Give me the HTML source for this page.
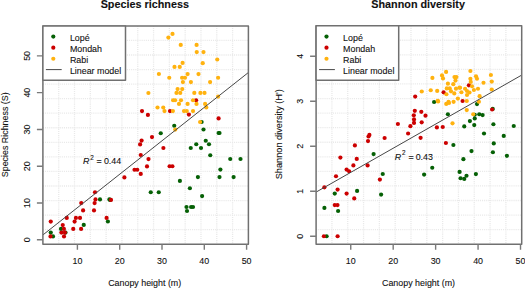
<!DOCTYPE html>
<html><head><meta charset="utf-8"><style>
html,body{margin:0;padding:0;background:#fff;}
svg{display:block;}
text{font-family:"Liberation Sans",sans-serif;fill:#111;stroke:#111;stroke-width:0.1px;}
</style></head><body>
<svg width="525" height="288" viewBox="0 0 525 288">
<rect width="525" height="288" fill="#fff"/>

<path d="M58.71 25.9V244.2M74.52 25.9V244.2M90.32 25.9V244.2M106.13 25.9V244.2M121.94 25.9V244.2M137.75 25.9V244.2M153.55 25.9V244.2M169.36 25.9V244.2M185.17 25.9V244.2M200.98 25.9V244.2M216.78 25.9V244.2M232.59 25.9V244.2M42.9 40.45H248.4M42.9 55.01H248.4M42.9 69.56H248.4M42.9 84.11H248.4M42.9 98.67H248.4M42.9 113.22H248.4M42.9 127.77H248.4M42.9 142.33H248.4M42.9 156.88H248.4M42.9 171.43H248.4M42.9 185.99H248.4M42.9 200.54H248.4M42.9 215.09H248.4M42.9 229.65H248.4" stroke="#e9e9e9" stroke-width="1.3" stroke-dasharray="1.1 1" fill="none"/>
<circle cx="201.6" cy="122" r="2.1" fill="#056005"/><circle cx="174.25" cy="125.75" r="2.1" fill="#056005"/><circle cx="160.75" cy="133.25" r="2.1" fill="#056005"/><circle cx="190.75" cy="148" r="2.1" fill="#056005"/><circle cx="150.75" cy="192.25" r="2.1" fill="#056005"/><circle cx="158.75" cy="192.25" r="2.1" fill="#056005"/><circle cx="179.9" cy="180.9" r="2.1" fill="#056005"/><circle cx="189.9" cy="188.25" r="2.1" fill="#056005"/><circle cx="186.5" cy="207" r="2.1" fill="#056005"/><circle cx="187" cy="211" r="2.1" fill="#056005"/><circle cx="191.1" cy="207" r="2.1" fill="#056005"/><circle cx="193" cy="207" r="2.1" fill="#056005"/><circle cx="203.5" cy="129.5" r="2.1" fill="#056005"/><circle cx="219.5" cy="133" r="2.1" fill="#056005"/><circle cx="218.6" cy="133" r="2.1" fill="#056005"/><circle cx="205.75" cy="140.75" r="2.1" fill="#056005"/><circle cx="196.25" cy="144.25" r="2.1" fill="#056005"/><circle cx="209" cy="144.25" r="2.1" fill="#056005"/><circle cx="201" cy="148" r="2.1" fill="#056005"/><circle cx="210.25" cy="155.25" r="2.1" fill="#056005"/><circle cx="220.4" cy="169.6" r="2.1" fill="#056005"/><circle cx="197.9" cy="177.1" r="2.1" fill="#056005"/><circle cx="219.5" cy="177.1" r="2.1" fill="#056005"/><circle cx="202.1" cy="196.1" r="2.1" fill="#056005"/><circle cx="230.25" cy="159" r="2.1" fill="#056005"/><circle cx="240.5" cy="159" r="2.1" fill="#056005"/><circle cx="233.6" cy="177.1" r="2.1" fill="#056005"/><circle cx="110.1" cy="199.9" r="2.1" fill="#056005"/><circle cx="107.9" cy="221.5" r="2.1" fill="#056005"/><circle cx="100" cy="199.4" r="2.1" fill="#056005"/><circle cx="109.4" cy="199.4" r="2.1" fill="#056005"/><circle cx="83.75" cy="224.9" r="2.1" fill="#056005"/><circle cx="61" cy="228.9" r="2.1" fill="#056005"/><circle cx="50.75" cy="232.6" r="2.1" fill="#056005"/><circle cx="53" cy="236.4" r="2.1" fill="#056005"/><circle cx="65.5" cy="232.6" r="2.1" fill="#056005"/><circle cx="142" cy="111.1" r="2.1" fill="#cc0000"/><circle cx="147.9" cy="114.9" r="2.1" fill="#cc0000"/><circle cx="170" cy="111.1" r="2.1" fill="#cc0000"/><circle cx="196.1" cy="100.25" r="2.1" fill="#cc0000"/><circle cx="188.9" cy="114.6" r="2.1" fill="#cc0000"/><circle cx="218.6" cy="118.4" r="2.1" fill="#cc0000"/><circle cx="152" cy="137.1" r="2.1" fill="#cc0000"/><circle cx="141.6" cy="140.6" r="2.1" fill="#cc0000"/><circle cx="140.1" cy="144.4" r="2.1" fill="#cc0000"/><circle cx="140.75" cy="155" r="2.1" fill="#cc0000"/><circle cx="148.5" cy="159.1" r="2.1" fill="#cc0000"/><circle cx="147" cy="166.4" r="2.1" fill="#cc0000"/><circle cx="134.5" cy="169.75" r="2.1" fill="#cc0000"/><circle cx="137.25" cy="169.75" r="2.1" fill="#cc0000"/><circle cx="140.75" cy="173.9" r="2.1" fill="#cc0000"/><circle cx="163.4" cy="148" r="2.1" fill="#cc0000"/><circle cx="169.6" cy="166.25" r="2.1" fill="#cc0000"/><circle cx="172.4" cy="166.25" r="2.1" fill="#cc0000"/><circle cx="124.4" cy="177.4" r="2.1" fill="#cc0000"/><circle cx="111" cy="199.9" r="2.1" fill="#cc0000"/><circle cx="106.6" cy="217.9" r="2.1" fill="#cc0000"/><circle cx="95" cy="192.25" r="2.1" fill="#cc0000"/><circle cx="95.5" cy="199.4" r="2.1" fill="#cc0000"/><circle cx="81.25" cy="203.1" r="2.1" fill="#cc0000"/><circle cx="94.6" cy="203.1" r="2.1" fill="#cc0000"/><circle cx="83.1" cy="210.4" r="2.1" fill="#cc0000"/><circle cx="94" cy="210.4" r="2.1" fill="#cc0000"/><circle cx="75.9" cy="217.9" r="2.1" fill="#cc0000"/><circle cx="80" cy="217.9" r="2.1" fill="#cc0000"/><circle cx="74.6" cy="221.6" r="2.1" fill="#cc0000"/><circle cx="81.1" cy="228.9" r="2.1" fill="#cc0000"/><circle cx="73.25" cy="228.9" r="2.1" fill="#cc0000"/><circle cx="50.75" cy="221.6" r="2.1" fill="#cc0000"/><circle cx="66.75" cy="217.9" r="2.1" fill="#cc0000"/><circle cx="62.75" cy="225.1" r="2.1" fill="#cc0000"/><circle cx="63.9" cy="228.9" r="2.1" fill="#cc0000"/><circle cx="61.4" cy="232.6" r="2.1" fill="#cc0000"/><circle cx="64.9" cy="232.6" r="2.1" fill="#cc0000"/><circle cx="50.5" cy="236.4" r="2.1" fill="#cc0000"/><circle cx="64" cy="236.4" r="2.1" fill="#cc0000"/><circle cx="172.5" cy="33.9" r="2.1" fill="#ffb20f"/><circle cx="168.4" cy="37.6" r="2.1" fill="#ffb20f"/><circle cx="180.75" cy="44.9" r="2.1" fill="#ffb20f"/><circle cx="196.6" cy="44.9" r="2.1" fill="#ffb20f"/><circle cx="196.75" cy="52.1" r="2.1" fill="#ffb20f"/><circle cx="203.5" cy="52.1" r="2.1" fill="#ffb20f"/><circle cx="217.25" cy="59.5" r="2.1" fill="#ffb20f"/><circle cx="182.6" cy="62.9" r="2.1" fill="#ffb20f"/><circle cx="202.75" cy="63.2" r="2.1" fill="#ffb20f"/><circle cx="174.5" cy="66.9" r="2.1" fill="#ffb20f"/><circle cx="179.75" cy="66.9" r="2.1" fill="#ffb20f"/><circle cx="158.9" cy="74" r="2.1" fill="#ffb20f"/><circle cx="187.6" cy="74.1" r="2.1" fill="#ffb20f"/><circle cx="198.5" cy="74.1" r="2.1" fill="#ffb20f"/><circle cx="169.25" cy="77.75" r="2.1" fill="#ffb20f"/><circle cx="182.1" cy="77.75" r="2.1" fill="#ffb20f"/><circle cx="185" cy="77.75" r="2.1" fill="#ffb20f"/><circle cx="218.1" cy="77.75" r="2.1" fill="#ffb20f"/><circle cx="182.9" cy="82.1" r="2.1" fill="#ffb20f"/><circle cx="190.9" cy="82.1" r="2.1" fill="#ffb20f"/><circle cx="210.1" cy="82.1" r="2.1" fill="#ffb20f"/><circle cx="177.6" cy="89.1" r="2.1" fill="#ffb20f"/><circle cx="182.25" cy="89.1" r="2.1" fill="#ffb20f"/><circle cx="148.4" cy="93" r="2.1" fill="#ffb20f"/><circle cx="176.5" cy="92.9" r="2.1" fill="#ffb20f"/><circle cx="180.25" cy="92.9" r="2.1" fill="#ffb20f"/><circle cx="194.3" cy="92.9" r="2.1" fill="#ffb20f"/><circle cx="200.4" cy="92.9" r="2.1" fill="#ffb20f"/><circle cx="204.5" cy="92.9" r="2.1" fill="#ffb20f"/><circle cx="218.1" cy="96.6" r="2.1" fill="#ffb20f"/><circle cx="173.1" cy="100.25" r="2.1" fill="#ffb20f"/><circle cx="175.1" cy="100.25" r="2.1" fill="#ffb20f"/><circle cx="181" cy="100.25" r="2.1" fill="#ffb20f"/><circle cx="193" cy="100.25" r="2.1" fill="#ffb20f"/><circle cx="157.5" cy="107.5" r="2.1" fill="#ffb20f"/><circle cx="163.25" cy="107.5" r="2.1" fill="#ffb20f"/><circle cx="164.5" cy="111.1" r="2.1" fill="#ffb20f"/><circle cx="172.9" cy="111.1" r="2.1" fill="#ffb20f"/><circle cx="179" cy="103.9" r="2.1" fill="#ffb20f"/><circle cx="187.6" cy="103.9" r="2.1" fill="#ffb20f"/><circle cx="196.5" cy="103.9" r="2.1" fill="#ffb20f"/><circle cx="205.1" cy="103.9" r="2.1" fill="#ffb20f"/><circle cx="206.3" cy="107.4" r="2.1" fill="#ffb20f"/><circle cx="184" cy="111.1" r="2.1" fill="#ffb20f"/><circle cx="186.75" cy="111.1" r="2.1" fill="#ffb20f"/><circle cx="193" cy="111.1" r="2.1" fill="#ffb20f"/><circle cx="200.1" cy="122" r="2.1" fill="#ffb20f"/><circle cx="175.25" cy="129.6" r="2.1" fill="#ffb20f"/>
<line x1="42.9" y1="234.95" x2="248.4" y2="72.5" stroke="#474747" stroke-width="1"/>
<rect x="42.9" y="25.9" width="205.5" height="218.29999999999998" fill="none" stroke="#707070" stroke-width="1.5" stroke-linejoin="round"/>
<path d="M77.4 244.2V249.79999999999998M119.7 244.2V249.79999999999998M162.0 244.2V249.79999999999998M204.3 244.2V249.79999999999998M246.6 244.2V249.79999999999998M42.9 239.75H36.9M42.9 202.98H36.9M42.9 166.20999999999998H36.9M42.9 129.44H36.9M42.9 92.66999999999999H36.9M42.9 55.89999999999998H36.9" stroke="#7a7a7a" stroke-width="1.4" fill="none"/>
<path d="M331.92 25.7V244.2M347.73 25.7V244.2M363.55 25.7V244.2M379.36 25.7V244.2M395.18 25.7V244.2M410.99 25.7V244.2M426.81 25.7V244.2M442.62 25.7V244.2M458.44 25.7V244.2M474.25 25.7V244.2M490.07 25.7V244.2M505.88 25.7V244.2M316.1 40.27H521.7M316.1 54.83H521.7M316.1 69.40H521.7M316.1 83.97H521.7M316.1 98.53H521.7M316.1 113.10H521.7M316.1 127.67H521.7M316.1 142.23H521.7M316.1 156.80H521.7M316.1 171.37H521.7M316.1 185.93H521.7M316.1 200.50H521.7M316.1 215.07H521.7M316.1 229.63H521.7" stroke="#e9e9e9" stroke-width="1.3" stroke-dasharray="1.1 1" fill="none"/>
<circle cx="326.6" cy="236.25" r="2.1" fill="#056005"/><circle cx="334.75" cy="193.6" r="2.1" fill="#056005"/><circle cx="324.4" cy="207.9" r="2.1" fill="#056005"/><circle cx="338.1" cy="211" r="2.1" fill="#056005"/><circle cx="373.6" cy="154.1" r="2.1" fill="#056005"/><circle cx="357.1" cy="190.9" r="2.1" fill="#056005"/><circle cx="382.75" cy="174" r="2.1" fill="#056005"/><circle cx="381.1" cy="194.6" r="2.1" fill="#056005"/><circle cx="432.25" cy="167.75" r="2.1" fill="#056005"/><circle cx="424.1" cy="174.6" r="2.1" fill="#056005"/><circle cx="434.1" cy="102" r="2.1" fill="#056005"/><circle cx="447.9" cy="114.25" r="2.1" fill="#056005"/><circle cx="477" cy="104.1" r="2.1" fill="#056005"/><circle cx="474.75" cy="114.75" r="2.1" fill="#056005"/><circle cx="479.25" cy="114.25" r="2.1" fill="#056005"/><circle cx="482.6" cy="115.1" r="2.1" fill="#056005"/><circle cx="474.75" cy="118.5" r="2.1" fill="#056005"/><circle cx="469.9" cy="121.1" r="2.1" fill="#056005"/><circle cx="474.25" cy="125.1" r="2.1" fill="#056005"/><circle cx="464.25" cy="126.4" r="2.1" fill="#056005"/><circle cx="492.75" cy="108.9" r="2.1" fill="#056005"/><circle cx="493.4" cy="124.25" r="2.1" fill="#056005"/><circle cx="513.75" cy="126" r="2.1" fill="#056005"/><circle cx="453.4" cy="145" r="2.1" fill="#056005"/><circle cx="471.5" cy="151.1" r="2.1" fill="#056005"/><circle cx="463.4" cy="159.2" r="2.1" fill="#056005"/><circle cx="459.6" cy="171.9" r="2.1" fill="#056005"/><circle cx="466.5" cy="175.75" r="2.1" fill="#056005"/><circle cx="460.6" cy="178.25" r="2.1" fill="#056005"/><circle cx="464.25" cy="178.9" r="2.1" fill="#056005"/><circle cx="475.9" cy="174.1" r="2.1" fill="#056005"/><circle cx="484" cy="133.5" r="2.1" fill="#056005"/><circle cx="503.75" cy="135.9" r="2.1" fill="#056005"/><circle cx="493.75" cy="143.4" r="2.1" fill="#056005"/><circle cx="492.9" cy="152.25" r="2.1" fill="#056005"/><circle cx="506.9" cy="155.8" r="2.1" fill="#056005"/><circle cx="323.9" cy="236.25" r="2.1" fill="#cc0000"/><circle cx="337.6" cy="236.25" r="2.1" fill="#cc0000"/><circle cx="324.4" cy="187.3" r="2.1" fill="#cc0000"/><circle cx="336" cy="176.25" r="2.1" fill="#cc0000"/><circle cx="337.6" cy="189.6" r="2.1" fill="#cc0000"/><circle cx="346.6" cy="193.6" r="2.1" fill="#cc0000"/><circle cx="346.6" cy="169.6" r="2.1" fill="#cc0000"/><circle cx="349.1" cy="171.25" r="2.1" fill="#cc0000"/><circle cx="353.4" cy="165.4" r="2.1" fill="#cc0000"/><circle cx="367.6" cy="165.4" r="2.1" fill="#cc0000"/><circle cx="356.75" cy="158.9" r="2.1" fill="#cc0000"/><circle cx="354.9" cy="145.4" r="2.1" fill="#cc0000"/><circle cx="340.4" cy="157.6" r="2.1" fill="#cc0000"/><circle cx="379.9" cy="179.6" r="2.1" fill="#cc0000"/><circle cx="354.25" cy="198.4" r="2.1" fill="#cc0000"/><circle cx="334.75" cy="205.1" r="2.1" fill="#cc0000"/><circle cx="337.5" cy="205.1" r="2.1" fill="#cc0000"/><circle cx="369.4" cy="134.9" r="2.1" fill="#cc0000"/><circle cx="368.5" cy="136.5" r="2.1" fill="#cc0000"/><circle cx="368" cy="141.1" r="2.1" fill="#cc0000"/><circle cx="384.6" cy="138" r="2.1" fill="#cc0000"/><circle cx="397.9" cy="124" r="2.1" fill="#cc0000"/><circle cx="414.8" cy="110.8" r="2.1" fill="#cc0000"/><circle cx="421.3" cy="111.8" r="2.1" fill="#cc0000"/><circle cx="425.5" cy="115.7" r="2.1" fill="#cc0000"/><circle cx="413.8" cy="115.25" r="2.1" fill="#cc0000"/><circle cx="414" cy="119.4" r="2.1" fill="#cc0000"/><circle cx="414" cy="122.9" r="2.1" fill="#cc0000"/><circle cx="421.7" cy="122.3" r="2.1" fill="#cc0000"/><circle cx="410.4" cy="126.2" r="2.1" fill="#cc0000"/><circle cx="408.1" cy="133.5" r="2.1" fill="#cc0000"/><circle cx="420.6" cy="137.8" r="2.1" fill="#cc0000"/><circle cx="415.2" cy="96.6" r="2.1" fill="#cc0000"/><circle cx="436.9" cy="127.4" r="2.1" fill="#cc0000"/><circle cx="442.75" cy="127" r="2.1" fill="#cc0000"/><circle cx="445.9" cy="143" r="2.1" fill="#cc0000"/><circle cx="443.6" cy="92.3" r="2.1" fill="#cc0000"/><circle cx="468.9" cy="85.3" r="2.1" fill="#cc0000"/><circle cx="462.6" cy="101" r="2.1" fill="#cc0000"/><circle cx="492.1" cy="109.5" r="2.1" fill="#cc0000"/><circle cx="421.75" cy="91.5" r="2.1" fill="#ffb20f"/><circle cx="430.75" cy="90.25" r="2.1" fill="#ffb20f"/><circle cx="446.1" cy="71.9" r="2.1" fill="#ffb20f"/><circle cx="432.4" cy="77.9" r="2.1" fill="#ffb20f"/><circle cx="442" cy="75.4" r="2.1" fill="#ffb20f"/><circle cx="443" cy="78.4" r="2.1" fill="#ffb20f"/><circle cx="454.5" cy="77.1" r="2.1" fill="#ffb20f"/><circle cx="456.4" cy="77.1" r="2.1" fill="#ffb20f"/><circle cx="455.5" cy="80.6" r="2.1" fill="#ffb20f"/><circle cx="447.9" cy="83.7" r="2.1" fill="#ffb20f"/><circle cx="453.3" cy="84.2" r="2.1" fill="#ffb20f"/><circle cx="437.2" cy="90.9" r="2.1" fill="#ffb20f"/><circle cx="446.8" cy="88.4" r="2.1" fill="#ffb20f"/><circle cx="449.75" cy="88.4" r="2.1" fill="#ffb20f"/><circle cx="456" cy="88.7" r="2.1" fill="#ffb20f"/><circle cx="459.5" cy="87.6" r="2.1" fill="#ffb20f"/><circle cx="451" cy="91.3" r="2.1" fill="#ffb20f"/><circle cx="454.3" cy="93.4" r="2.1" fill="#ffb20f"/><circle cx="446.4" cy="94.25" r="2.1" fill="#ffb20f"/><circle cx="457.9" cy="98.6" r="2.1" fill="#ffb20f"/><circle cx="437.7" cy="100.9" r="2.1" fill="#ffb20f"/><circle cx="448.5" cy="101.75" r="2.1" fill="#ffb20f"/><circle cx="453.6" cy="101.8" r="2.1" fill="#ffb20f"/><circle cx="470.4" cy="71" r="2.1" fill="#ffb20f"/><circle cx="476" cy="76.25" r="2.1" fill="#ffb20f"/><circle cx="477" cy="78.75" r="2.1" fill="#ffb20f"/><circle cx="470.4" cy="78.75" r="2.1" fill="#ffb20f"/><circle cx="470.75" cy="81.9" r="2.1" fill="#ffb20f"/><circle cx="483.5" cy="82.75" r="2.1" fill="#ffb20f"/><circle cx="472" cy="86.25" r="2.1" fill="#ffb20f"/><circle cx="460.1" cy="87.75" r="2.1" fill="#ffb20f"/><circle cx="465.1" cy="88.75" r="2.1" fill="#ffb20f"/><circle cx="467" cy="91" r="2.1" fill="#ffb20f"/><circle cx="473.9" cy="90" r="2.1" fill="#ffb20f"/><circle cx="478" cy="88.75" r="2.1" fill="#ffb20f"/><circle cx="461.4" cy="92.25" r="2.1" fill="#ffb20f"/><circle cx="469.5" cy="92.5" r="2.1" fill="#ffb20f"/><circle cx="467" cy="95" r="2.1" fill="#ffb20f"/><circle cx="479.6" cy="96.2" r="2.1" fill="#ffb20f"/><circle cx="490.9" cy="75" r="2.1" fill="#ffb20f"/><circle cx="491.75" cy="81.6" r="2.1" fill="#ffb20f"/><circle cx="491.75" cy="89.5" r="2.1" fill="#ffb20f"/><circle cx="438.1" cy="101.4" r="2.1" fill="#ffb20f"/><circle cx="446.25" cy="103.9" r="2.1" fill="#ffb20f"/><circle cx="449" cy="103" r="2.1" fill="#ffb20f"/><circle cx="466.75" cy="101" r="2.1" fill="#ffb20f"/><circle cx="478.9" cy="101.75" r="2.1" fill="#ffb20f"/><circle cx="466.75" cy="110.1" r="2.1" fill="#ffb20f"/><circle cx="473.25" cy="114.25" r="2.1" fill="#ffb20f"/><circle cx="452.5" cy="123.3" r="2.1" fill="#ffb20f"/>
<line x1="316.1" y1="192.1" x2="521.7" y2="75.1" stroke="#474747" stroke-width="1"/>
<rect x="316.1" y="25.7" width="205.60000000000002" height="218.5" fill="none" stroke="#707070" stroke-width="1.5" stroke-linejoin="round"/>
<path d="M350.75 244.2V249.79999999999998M393.19 244.2V249.79999999999998M435.63 244.2V249.79999999999998M478.07 244.2V249.79999999999998M520.51 244.2V249.79999999999998M316.1 236.25H310.1M316.1 191.25H310.1M316.1 146.25H310.1M316.1 101.25H310.1M316.1 56.25H310.1" stroke="#7a7a7a" stroke-width="1.4" fill="none"/>
<text x="77.4" y="264.3" font-size="8.9" text-anchor="middle" >10</text>
<text x="119.7" y="264.3" font-size="8.9" text-anchor="middle" >20</text>
<text x="162.0" y="264.3" font-size="8.9" text-anchor="middle" >30</text>
<text x="204.3" y="264.3" font-size="8.9" text-anchor="middle" >40</text>
<text x="246.6" y="264.3" font-size="8.9" text-anchor="middle" >50</text>
<text transform="translate(29.9 239.75) rotate(-90)" font-size="8.9" text-anchor="middle" x="0" y="0">0</text>
<text transform="translate(29.9 202.98) rotate(-90)" font-size="8.9" text-anchor="middle" x="0" y="0">10</text>
<text transform="translate(29.9 166.20999999999998) rotate(-90)" font-size="8.9" text-anchor="middle" x="0" y="0">20</text>
<text transform="translate(29.9 129.44) rotate(-90)" font-size="8.9" text-anchor="middle" x="0" y="0">30</text>
<text transform="translate(29.9 92.66999999999999) rotate(-90)" font-size="8.9" text-anchor="middle" x="0" y="0">40</text>
<text transform="translate(29.9 55.89999999999998) rotate(-90)" font-size="8.9" text-anchor="middle" x="0" y="0">50</text>
<text x="350.75" y="264.3" font-size="8.9" text-anchor="middle" >10</text>
<text x="393.19" y="264.3" font-size="8.9" text-anchor="middle" >20</text>
<text x="435.63" y="264.3" font-size="8.9" text-anchor="middle" >30</text>
<text x="478.07" y="264.3" font-size="8.9" text-anchor="middle" >40</text>
<text x="520.51" y="264.3" font-size="8.9" text-anchor="middle" >50</text>
<text transform="translate(303.4 236.25) rotate(-90)" font-size="8.9" text-anchor="middle" x="0" y="0">0</text>
<text transform="translate(303.4 191.25) rotate(-90)" font-size="8.9" text-anchor="middle" x="0" y="0">1</text>
<text transform="translate(303.4 146.25) rotate(-90)" font-size="8.9" text-anchor="middle" x="0" y="0">2</text>
<text transform="translate(303.4 101.25) rotate(-90)" font-size="8.9" text-anchor="middle" x="0" y="0">3</text>
<text transform="translate(303.4 56.25) rotate(-90)" font-size="8.9" text-anchor="middle" x="0" y="0">4</text>
<text x="144.8" y="7.8" font-size="10.8" text-anchor="middle" font-weight="bold">Species richness</text>
<text x="418.1" y="7.8" font-size="10.8" text-anchor="middle" font-weight="bold">Shannon diversity</text>
<text x="144.7" y="285.8" font-size="8.9" text-anchor="middle" >Canopy height (m)</text>
<text x="418.5" y="285.8" font-size="8.9" text-anchor="middle" >Canopy height (m)</text>
<text transform="translate(8.1 134.75) rotate(-90)" font-size="8.9" text-anchor="middle">Species Richness (S)</text>
<text transform="translate(281.6 134.25) rotate(-90)" font-size="9.2" text-anchor="middle">Shannon diversity (H')</text>
<text x="83" y="164.45" font-size="8.9" font-style="italic">R</text><text x="90.3" y="159.54999999999998" font-size="6.3">2</text><text x="96.6" y="164.45" font-size="8.9">=</text><text x="103.9" y="164.45" font-size="8.9">0.44</text>
<text x="394.8" y="159.6" font-size="8.9" font-style="italic">R</text><text x="402.1" y="154.7" font-size="6.3">2</text><text x="408.40000000000003" y="159.6" font-size="8.9">=</text><text x="415.7" y="159.6" font-size="8.9">0.43</text>
<rect x="42.9" y="25.9" width="82.6" height="54.4" fill="#fff" stroke="#707070" stroke-width="1.5" stroke-linejoin="round"/>
<circle cx="53.3" cy="36.6" r="2.1" fill="#056005"/>
<circle cx="53.3" cy="47.7" r="2.1" fill="#cc0000"/>
<circle cx="53.3" cy="58.75" r="2.1" fill="#ffb20f"/>
<line x1="45.9" y1="69.6" x2="61.7" y2="69.6" stroke="#474747" stroke-width="1"/>
<text x="69.9" y="40.90" font-size="8.9">Lopé</text>
<text x="69.9" y="51.90" font-size="8.9">Mondah</text>
<text x="69.9" y="62.90" font-size="8.9">Rabi</text>
<text x="69.9" y="73.90" font-size="8.9">Linear model</text>
<rect x="316.1" y="25.7" width="82.6" height="54.599999999999994" fill="#fff" stroke="#707070" stroke-width="1.5" stroke-linejoin="round"/>
<circle cx="326.5" cy="36.6" r="2.1" fill="#056005"/>
<circle cx="326.5" cy="47.7" r="2.1" fill="#cc0000"/>
<circle cx="326.5" cy="58.75" r="2.1" fill="#ffb20f"/>
<line x1="319.1" y1="69.6" x2="334.90000000000003" y2="69.6" stroke="#474747" stroke-width="1"/>
<text x="343.1" y="40.90" font-size="8.9">Lopé</text>
<text x="343.1" y="51.90" font-size="8.9">Mondah</text>
<text x="343.1" y="62.90" font-size="8.9">Rabi</text>
<text x="343.1" y="73.90" font-size="8.9">Linear model</text>
</svg></body></html>
